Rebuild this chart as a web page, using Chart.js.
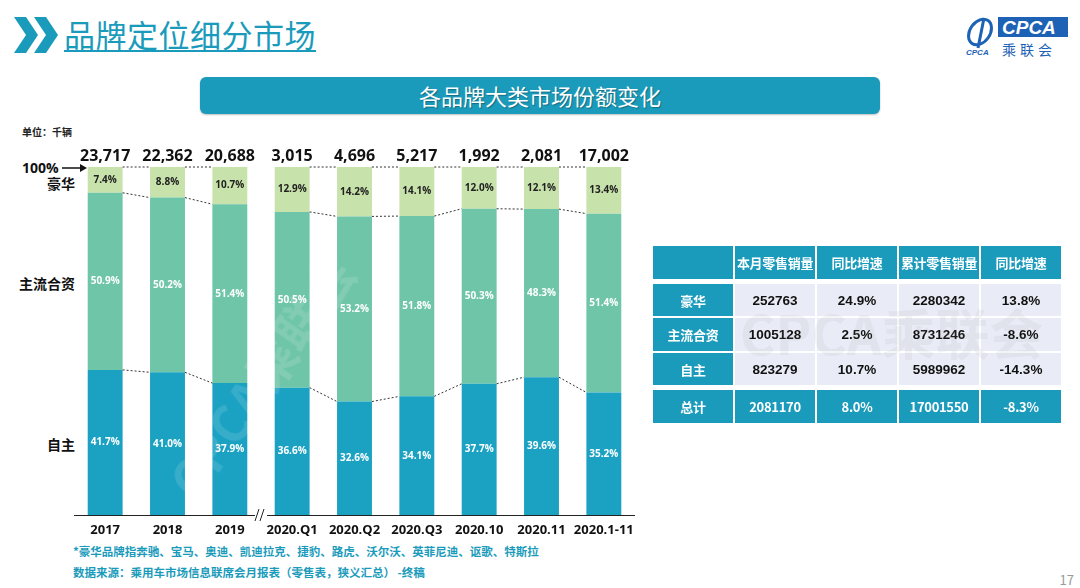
<!DOCTYPE html>
<html>
<head>
<meta charset="utf-8">
<script src="https://cdn.jsdelivr.net/npm/chart.js@4.4.1/dist/chart.umd.min.js"></script>
<style>
  html,body{margin:0;padding:0;background:#fff;width:1080px;height:588px;overflow:hidden;font-family:"Noto Sans CJK SC","Noto Sans",sans-serif;}
  #wrap{position:absolute;left:0;top:0;width:1080px;height:588px;}
  .abs{position:absolute;white-space:nowrap;}
  #title{left:64px;top:11px;font-size:31px;color:#1a9bbb;text-decoration:underline;text-decoration-thickness:2px;text-underline-offset:3px;letter-spacing:0.5px;}
  #banner{left:200px;top:77px;width:680px;height:37px;background:#1a9bbb;border-radius:6px;color:#fff;font-size:22px;line-height:37px;text-align:center;box-shadow:0 1px 2px rgba(0,0,0,0.25);text-shadow:1px 1px 1px rgba(0,0,0,0.3);}
  #unit{left:22px;top:124px;font-size:10px;font-weight:bold;color:#222;}
  .lbl{font-weight:bold;color:#111;font-size:14px;}
  .foot{left:73px;font-size:11.5px;color:#1a9bbb;font-weight:bold;}
  table{position:absolute;left:653px;top:246px;border-collapse:separate;border-spacing:2px;margin:-2px;table-layout:fixed;}
  td{height:32px;text-align:center;font-size:13.5px;font-weight:bold;font-family:"Liberation Sans","Noto Sans CJK SC",sans-serif;padding:0;white-space:nowrap;overflow:hidden;}
  td.h{background:#1a9bbb;color:#fff;font-family:"Noto Sans CJK SC",sans-serif;font-size:13px;letter-spacing:-0.3px;}
  td.d{background:#e9ecf6;color:#111;}
  tr.gap td{height:0;}
  #pg{right:6px;top:570px;font-size:13px;color:#999;}
</style>
</head>
<body>
<div id="wrap">
  <svg class="abs" style="left:14px;top:17px" width="46" height="36" viewBox="0 0 46 36">
    <polygon points="0,0 12,0 24,18 12,36 0,36 12,18" fill="#1a9bbb"/>
    <polygon points="20,0 32,0 44,18 32,36 20,36 32,18" fill="#1a9bbb"/>
  </svg>
  <div id="title" class="abs">品牌定位细分市场</div>
  <svg class="abs" style="left:962px;top:14px" width="108" height="44" viewBox="0 0 108 44">
    <ellipse cx="18" cy="18" rx="10" ry="14" fill="none" stroke="#1d62b5" stroke-width="3" transform="rotate(35 18 18)"/>
    <path d="M22 4 L16 34" stroke="#1d62b5" stroke-width="3"/>
    <text x="4" y="41" font-size="8" font-style="italic" font-weight="bold" fill="#1d62b5" font-family="Liberation Sans">CPCA</text>
    <rect x="36" y="3" width="70" height="20" fill="#1d62b5"/>
    <text x="40" y="20" font-size="19" font-style="italic" font-weight="bold" fill="#fff" font-family="Liberation Sans">CPCA</text>
    <text x="40" y="41" font-size="14" fill="#1d62b5" font-family="Noto Sans CJK SC" letter-spacing="4">乘联会</text>
  </svg>
  <div id="banner" class="abs">各品牌大类市场份额变化</div>
  <div id="unit" class="abs">单位：千辆</div>
  <div class="abs lbl" style="left:22px;top:158px;font-family:'Open Sans',sans-serif;font-size:14px;">100%</div>
  <svg class="abs" style="left:62px;top:163px" width="26" height="10" viewBox="0 0 26 10">
    <line x1="0" y1="5" x2="20" y2="5" stroke="#111" stroke-width="1.5"/>
    <polygon points="18,1 25,5 18,9" fill="#111"/>
  </svg>
  <div class="abs lbl" style="left:47px;top:173px;">豪华</div>
  <div class="abs lbl" style="left:19px;top:273px;">主流合资</div>
  <div class="abs lbl" style="left:47px;top:434px;">自主</div>
  <div class="abs foot" style="top:543px;">*豪华品牌指奔驰、宝马、奥迪、凯迪拉克、捷豹、路虎、沃尔沃、英菲尼迪、讴歌、特斯拉</div>
  <div class="abs foot" style="top:564px;">数据来源：乘用车市场信息联席会月报表（零售表，狭义汇总） -终稿</div>
  <div id="pg" class="abs">17</div>
  <canvas id="c" class="abs" style="left:0;top:0" width="1080" height="588"></canvas>
  <div class="abs" style="left:150px;top:470px;font-size:50px;font-weight:bold;color:rgba(255,255,255,0.12);transform:rotate(-55deg);transform-origin:left top;">CPCA乘联会</div>
  <table id="tbl"></table>
  <div class="abs" style="left:740px;top:292px;font-size:54px;font-weight:bold;color:rgba(150,150,150,0.1);pointer-events:none;">CPCA乘联会</div>
</div>
<script>
const categories = ['2017','2018','2019','2020.Q1','2020.Q2','2020.Q3','2020.10','2020.11','2020.1-11'];
const luxuryShare = [7.4, 8.8, 10.7, 12.9, 14.2, 14.1, 12.0, 12.1, 13.4];
const mainstreamShare = [50.9, 50.2, 51.4, 50.5, 53.2, 51.8, 50.3, 48.3, 51.4];
const domesticShare = [41.7, 41.0, 37.9, 36.6, 32.6, 34.1, 37.7, 39.6, 35.2];
const totals = ['23,717','22,362','20,688','3,015','4,696','5,217','1,992','2,081','17,002'];
const breakAfter = 2; // axis break between 2019 and 2020.Q1

const tableHeader = ['', '本月零售销量', '同比增速', '累计零售销量', '同比增速'];
const tableRows = [
  ['豪华', '252763', '24.9%', '2280342', '13.8%'],
  ['主流合资', '1005128', '2.5%', '8731246', '-8.6%'],
  ['自主', '823279', '10.7%', '5989962', '-14.3%']
];
const tableTotal = ['总计', '2081170', '8.0%', '17001550', '-8.3%'];

(function(){
  const t = document.getElementById('tbl');
  const widths = [80,80,80,80,80];
  let h = '<colgroup>' + widths.map(w=>`<col style="width:${w}px">`).join('') + '</colgroup>';
  h += '<tr>' + tableHeader.map((v,i)=>`<td class="h" style="height:33px">${v}</td>`).join('') + '</tr>';
  h += '<tr class="gap"><td colspan="5" style="height:1px"></td></tr>';
  tableRows.forEach((r,ri)=>{
    h += '<tr>' + r.map((v,i)=>`<td class="${i===0?'h':'d'}" style="height:${ri===1?33:32}px">${v}</td>`).join('') + '</tr>';
  });
  h += '<tr class="gap"><td colspan="5" style="height:1px"></td></tr>';
  h += '<tr>' + tableTotal.map(v=>`<td class="h" style="height:33px">${v}</td>`).join('') + '</tr>';
  t.innerHTML = h;
  t.style.width = (widths.reduce((a,b)=>a+b,0) + 2*6) + 'px';
})();

const colors = {domestic:'#1ba2c3', mainstream:'#6fc5a8', luxury:'#c8e2ab'};

const overlay = {
  id:'overlay',
  afterDatasetsDraw(chart){
    const ctx = chart.ctx;
    const y = chart.scales.y, x = chart.scales.x;
    const m0 = chart.getDatasetMeta(0).data, m1 = chart.getDatasetMeta(1).data, m2 = chart.getDatasetMeta(2).data;
    ctx.save();
    ctx.strokeStyle = '#333'; ctx.lineWidth = 1; ctx.setLineDash([2,2]);
    for(let i=0;i<categories.length-1;i++){
      if(i===breakAfter) continue;
      const a = m0[i], b = m0[i+1];
      const xa = a.x + a.width/2, xb = b.x - b.width/2;
      const levels = [[100,100],[100-luxuryShare[i],100-luxuryShare[i+1]],[domesticShare[i],domesticShare[i+1]]];
      levels.forEach(l=>{
        ctx.beginPath(); ctx.moveTo(xa, y.getPixelForValue(l[0])); ctx.lineTo(xb, y.getPixelForValue(l[1])); ctx.stroke();
      });
    }
    ctx.setLineDash([]);
    const base = y.getPixelForValue(0);
    const bx = (x.getPixelForValue(breakAfter) + x.getPixelForValue(breakAfter+1))/2;
    ctx.strokeStyle = '#222'; ctx.lineWidth = 1;
    ctx.beginPath(); ctx.moveTo(chart.chartArea.left, base+0.5); ctx.lineTo(bx-6, base+0.5);
    ctx.moveTo(bx+6, base+0.5); ctx.lineTo(chart.chartArea.right, base+0.5); ctx.stroke();
    ctx.beginPath(); ctx.moveTo(bx-6, base+6); ctx.lineTo(bx-2, base-6); ctx.moveTo(bx-1, base+6); ctx.lineTo(bx+3, base-6); ctx.stroke();
    ctx.textAlign = 'center'; ctx.textBaseline = 'middle';
    ctx.font = 'bold 10px "Open Sans", sans-serif';
    [[m0,domesticShare,'#fff'],[m1,mainstreamShare,'#fff'],[m2,luxuryShare,'#222']].forEach(([m,vals,col])=>{
      ctx.fillStyle = col;
      m.forEach((el,i)=>{
        ctx.fillText(vals[i].toFixed(1)+'%', el.x, (el.y+el.base)/2);
      });
    });
    ctx.font = 'bold 16px "Open Sans", sans-serif'; ctx.fillStyle = '#111';
    m2.forEach((el,i)=>{ ctx.fillText(totals[i], el.x, y.getPixelForValue(100) - 11); });
    ctx.restore();
  }
};

new Chart(document.getElementById('c'), {
  type:'bar',
  data:{
    labels:categories,
    datasets:[
      {label:'自主', data:domesticShare, backgroundColor:colors.domestic},
      {label:'主流合资', data:mainstreamShare, backgroundColor:colors.mainstream},
      {label:'豪华', data:luxuryShare, backgroundColor:colors.luxury}
    ]
  },
  options:{
    responsive:false, animation:false, devicePixelRatio:1,
    layout:{padding:{left:74, right:445, top:167, bottom:43}},
    datasets:{bar:{categoryPercentage:1, barPercentage:0.56, borderWidth:0}},
    plugins:{legend:{display:false}, tooltip:{enabled:false}},
    scales:{
      x:{stacked:true, grid:{display:false, drawTicks:false}, border:{display:false},
         ticks:{color:'#111', font:{family:'"Open Sans", sans-serif', weight:'bold', size:13}, padding:7, maxRotation:0, autoSkip:false},
         afterFit(s){ s.height = 30; }},
      y:{stacked:true, min:0, max:100, display:false}
    }
  },
  plugins:[overlay]
});
</script>
</body>
</html>
